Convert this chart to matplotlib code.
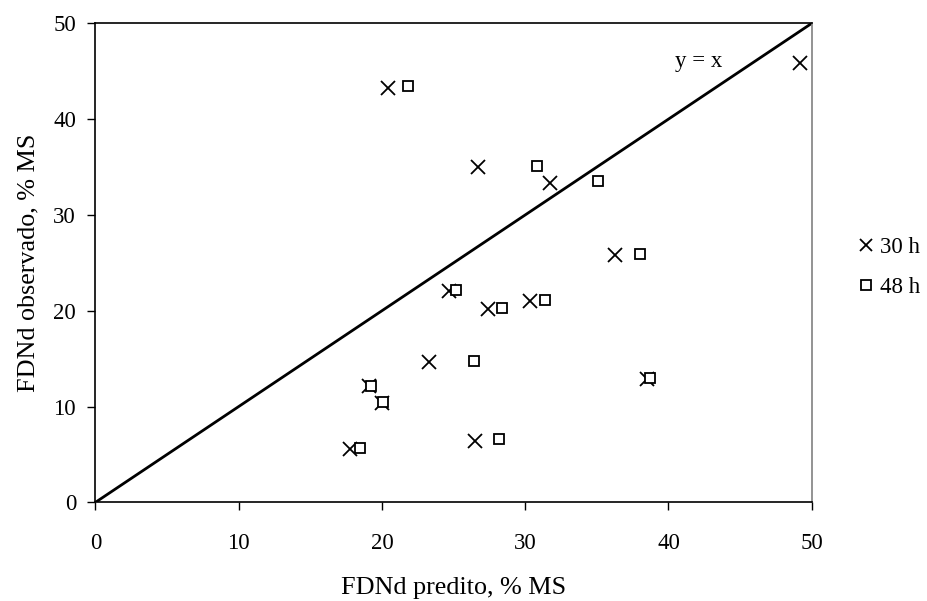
import matplotlib
matplotlib.use("Agg")
import matplotlib.pyplot as plt
from matplotlib.lines import Line2D

plt.rcParams['font.family'] = ['Liberation Serif', 'DejaVu Serif']

pred_30 = [20.4, 26.7, 31.7, 36.3, 24.7, 27.4, 30.3, 23.3, 38.5, 19.1, 20.0, 26.5, 17.8, 49.2]
obs_30 = [43.3, 35.0, 33.3, 25.8, 22.1, 20.2, 21.0, 14.6, 12.9, 12.1, 10.4, 6.4, 5.6, 45.9]
pred_48 = [21.8, 30.8, 35.1, 38.0, 25.2, 28.4, 31.4, 26.4, 38.7, 19.2, 20.1, 28.2, 18.5]
obs_48 = [43.5, 35.1, 33.5, 25.9, 22.2, 20.3, 21.1, 14.7, 13.0, 12.1, 10.5, 6.6, 5.7]
line_xy = [0, 50]
xticks = [0, 10, 20, 30, 40, 50]
yticks = [0, 10, 20, 30, 40, 50]

FS = 16.5
LFS = 18.8

fig = plt.figure(figsize=(9.28, 6.01), dpi=100)
ax = fig.add_axes([0.1029, 0.1642, 0.7718, 0.797])

ax.plot(line_xy, line_xy, color='black', lw=2.0, zorder=2)
ax.plot(pred_30, obs_30, linestyle='none', marker='x', markersize=9.5,
        markeredgewidth=1.3, color='black', zorder=3)
ax.plot(pred_48, obs_48, linestyle='none', marker='s', markersize=7.5,
        markeredgewidth=1.3, markerfacecolor='white', markeredgecolor='black', zorder=3)

ax.text(42.1, 46.0, 'y = x', fontsize=FS, ha='center', va='center')

ax.set_xlim(0, 50)
ax.set_ylim(0, 50)
ax.set_xticks(xticks)
ax.set_yticks(yticks)
ax.tick_params(direction='out', length=6, width=1, labelsize=FS,
               top=False, right=False)
ax.tick_params(axis='x', pad=16)
ax.tick_params(axis='y', pad=8)
for s in ['left', 'bottom', 'top']:
    ax.spines[s].set_color('black')
    ax.spines[s].set_linewidth(1.2)
ax.spines['right'].set_color('#808080')
ax.spines['right'].set_linewidth(1.2)

ax.set_xlabel('FDNd predito, % MS', fontsize=LFS, labelpad=17)
ax.set_ylabel('FDNd observado, % MS', fontsize=LFS, labelpad=10)

handles = [
    Line2D([], [], linestyle='none', marker='x', markersize=8, markeredgewidth=1.3, color='black'),
    Line2D([], [], linestyle='none', marker='s', markersize=6.5, markeredgewidth=1.3,
           markerfacecolor='white', markeredgecolor='black'),
]
fig.legend(handles, ['30 h', '48 h'], loc='center left', bbox_to_anchor=(0.926, 0.555),
           frameon=False, fontsize=FS, handlelength=0.6, handletextpad=0.3,
           labelspacing=0.8, borderaxespad=0, borderpad=0)

fig.savefig('out.png', dpi=100, facecolor='white')
